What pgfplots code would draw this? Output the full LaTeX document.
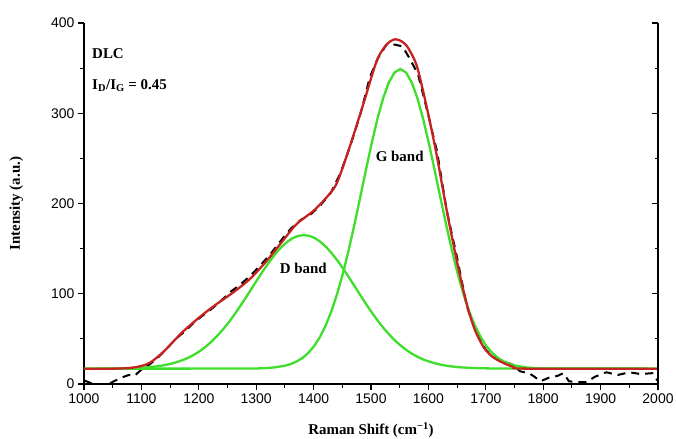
\documentclass[border=0pt]{standalone}
\usepackage{fontspec}
\setmainfont{Liberation Serif}
\newfontfamily\ticksans{Liberation Sans}
\usepackage{pgfplots}
\pgfplotsset{compat=1.18}
\definecolor{fitred}{RGB}{198,34,34}
\definecolor{bandgreen}{RGB}{62,222,42}

\begin{document}
\begin{tikzpicture}
\pgfplotsset{ramanbase/.style={
  width=574bp, height=361bp, scale only axis,
  xmin=1000, xmax=2000, ymin=0, ymax=400,
  xtick={1000,1100,...,2000}, ytick={0,100,...,400},
  minor x tick num=1, minor y tick num=1,
  major tick length=6bp, minor tick length=3.5bp,
  every tick/.style={black, line width=1.1bp},
  axis line style={line width=1.2bp},
  /pgf/number format/assume math mode=true,
  /pgf/number format/set thousands separator={},
  ticklabel style={font=\fontsize{14}{16}\selectfont\ticksans},
}}
\begin{axis}[ramanbase, name=ax,
  axis x line*=bottom, axis y line*=left, tick align=outside,
  xlabel={\textbf{Raman Shift (cm\textsuperscript{−1})}},
  ylabel={\textbf{Intensity (a.u.)}},
  label style={font=\fontsize{15}{17}\selectfont},
  x label style={at={(axis description cs:0.5,-0.128)}, anchor=center},
  y label style={at={(axis description cs:-0.118,0.5)}, anchor=center},
]
% measured spectrum
\addplot[black, line width=2bp, dash pattern=on 8bp off 6bp] coordinates {
(1000,4) (1012,1) (1025,-3) (1040,-1) (1052,3) (1065,7) (1078,10) (1088,9)
(1100,16) (1115,22) (1130,30) (1145,40) (1160,50) (1175,58) (1190,67) (1205,75)
(1220,82) (1235,90) (1255,102) (1272,110) (1290,120) (1308,132) (1325,144)
(1342,158) (1360,172) (1378,182) (1395,188) (1412,198) (1430,212) (1447,234)
(1465,266) (1482,300) (1498,340) (1512,361) (1527,376) (1542,376) (1555,374)
(1568,360) (1582,343) (1597,305) (1615,258) (1632,192) (1650,140) (1667,86)
(1684,56) (1700,38) (1715,29) (1730,25) (1745,22) (1760,14) (1775,12) (1785,8)
(1795,3) (1810,7) (1825,9) (1835,12) (1845,3) (1860,2) (1875,2) (1890,8)
(1910,13) (1930,10) (1950,13) (1970,11) (1990,12) (2000,3)};
% D band
\addplot[bandgreen, line width=2.3bp] coordinates {
(1000,17) (1063,17.3) (1083,17.6) (1103,18.2) (1113,18.6) (1123,19.3) (1133,20.1)
(1143,21.2) (1153,22.7) (1163,24.5) (1173,26.7) (1183,29.5) (1193,32.9)
(1203,37.0) (1213,41.9) (1223,47.5) (1233,53.9) (1243,61.1) (1253,69.1)
(1263,77.8) (1273,87.1) (1283,96.8) (1293,106.8) (1303,116.7) (1313,126.4)
(1323,135.5) (1333,143.8) (1343,151.1) (1353,157.0) (1363,161.4) (1373,164.1)
(1383,165) (1393,164.1) (1403,161.4) (1413,157.0) (1423,151.1) (1433,143.8)
(1443,135.5) (1453,126.4) (1463,116.7) (1473,106.8) (1483,96.8) (1493,87.1)
(1503,77.8) (1513,69.1) (1523,61.1) (1533,53.9) (1543,47.5) (1553,41.9)
(1563,37.0) (1573,32.9) (1583,29.5) (1593,26.7) (1603,24.5) (1613,22.7)
(1623,21.2) (1633,20.1) (1643,19.3) (1653,18.6) (1663,18.2) (1683,17.6)
(1703,17.3) (1733,17.1) (2000,17)};
% G band
\addplot[bandgreen, line width=2.3bp] coordinates {
(1000,17) (1291,17.1) (1311,17.4) (1331,18.3) (1351,20.4) (1361,22.3) (1371,25.1)
(1381,29.0) (1391,34.6) (1401,42.1) (1411,52.0) (1421,64.7) (1431,80.6)
(1441,99.8) (1451,122.3) (1461,148.0) (1471,176.3) (1481,206.2) (1491,236.6)
(1501,266.2) (1511,293.3) (1521,316.4) (1531,334.1) (1541,345.2) (1551,349)
(1561,345.2) (1571,334.1) (1581,316.4) (1591,293.3) (1601,266.2) (1611,236.6)
(1621,206.2) (1631,176.3) (1641,148.0) (1651,122.3) (1661,99.8) (1671,80.6)
(1681,64.7) (1691,52.0) (1701,42.1) (1711,34.6) (1721,29.0) (1731,25.1)
(1741,22.3) (1751,20.4) (1771,18.3) (1791,17.4) (1811,17.1) (2000,17)};
% cumulative fit
\addplot[fitred, line width=2.3bp, smooth, tension=0.5] coordinates {
(1000,17) (1050,17) (1080,17.8) (1100,20) (1116,24) (1139,36) (1160,50) (1174,59)
(1192,69) (1209,78) (1232,89) (1261,102) (1290,117) (1319,137) (1348,160)
(1370,177) (1400,192) (1420,205) (1440,222) (1463,263) (1487,311) (1510,358)
(1527,376) (1542,382) (1555,379) (1565,372) (1580,352) (1597,307) (1614,255)
(1632,192) (1650,135) (1667,88) (1681,60) (1696,41) (1710,31) (1725,25)
(1748,19) (1771,17) (2000,17)};
\node[anchor=west, inner sep=0pt, font=\fontsize{15}{17}\selectfont\bfseries]
  at (axis cs:1014,366) {DLC};
\node[anchor=west, inner sep=0pt, font=\fontsize{15}{17}\selectfont\bfseries]
  at (axis cs:1014,331) {I\textsubscript{D}/I\textsubscript{G} = 0.45};
\node[inner sep=0pt, font=\fontsize{15}{17}\selectfont\bfseries]
  at (axis cs:1550,252) {G band};
\node[inner sep=0pt, font=\fontsize{15}{17}\selectfont\bfseries]
  at (axis cs:1382,128) {D band};
\end{axis}
\begin{axis}[ramanbase, axis y line*=right, hide x axis, tick align=inside,
  yticklabels={}]
\end{axis}
\pgfresetboundingbox
\path ([shift={(-84bp,-55bp)}]ax.south west) rectangle ([shift={(18bp,23bp)}]ax.north east);
\end{tikzpicture}
\end{document}
